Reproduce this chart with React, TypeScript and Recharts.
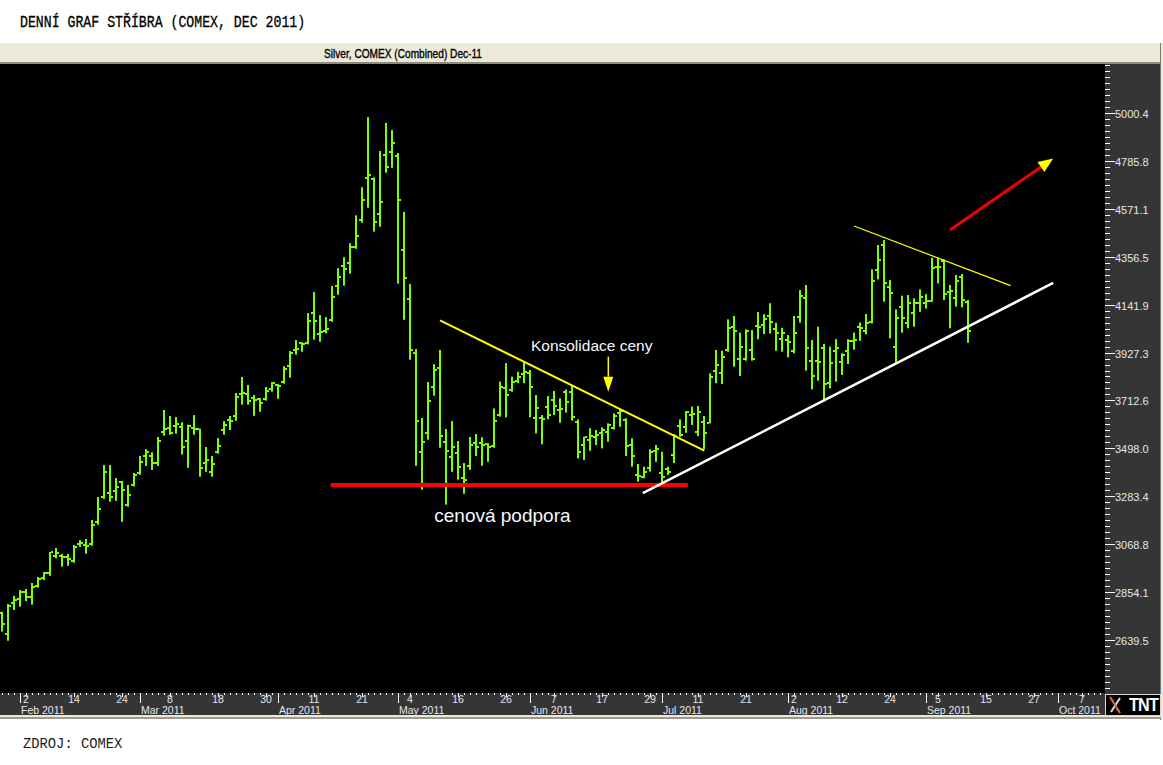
import React from 'react';
import { ComposedChart, Bar, XAxis, YAxis, ReferenceLine, ReferenceDot } from 'recharts';

/**
 * Daily OHLC bars, one per trading day.
 * Index 0 = 2 Feb 2011, first bar (index -4) = 27 Jan 2011.
 * Every weekday has a slot except Good Friday (22 Apr).
 */
const FIRST_INDEX = -4;

const opens = [
  2760, 2665, 2805, 2823, 2856, 2833, 2881, 2919, 2941, 3014,
  3016, 3013, 2995, 3068, 3065, 3068, 3169, 3279, 3300, 3308,
  3346, 3244, 3335, 3389, 3464, 3464, 3431, 3570, 3588, 3600,
  3595, 3532, 3590, 3586, 3431, 3391, 3483, 3580, 3625, 3644,
  3740, 3740, 3722, 3719, 3720, 3762, 3782, 3797, 3868, 3937,
  3970, 3971, 4106, 4009, 4024, 4073, 4227, 4316, 4328, 4401,
  4522, 4710, 4705, 4549, 4814, 4827, 4809, 4388, 4168, 3927,
  3480, 3568, 3772, 3857, 3528, 3461, 3479, 3367, 3420, 3522,
  3521, 3518, 3509, 3647, 3767, 3759, 3801, 3830, 3834, 3633,
  3633, 3685, 3715, 3670, 3752, 3752, 3617, 3513, 3535, 3548,
  3565, 3572, 3588, 3658, 3625, 3513, 3379, 3371, 3409, 3488,
  3386, 3404, 3468, 3598, 3595, 3647, 3573, 3615, 3613, 3846,
  3834, 3939, 4043, 3900, 3897, 3939, 4048, 4051, 4091, 4031,
  3987, 3984, 3934, 4088, 4170, 3891, 3891, 3948, 3789, 3935,
  3886, 3934, 3979, 4040, 4024, 4065, 4297, 4409, 4221, 3953,
  4133, 4058, 4103, 4148, 4150, 4160, 4312, 4339, 4200, 4170,
  4267, 4155,
];

const highs = [
  2766, 2801, 2837, 2863, 2868, 2895, 2922, 2944, 3034, 3052,
  3025, 3025, 3065, 3087, 3092, 3177, 3280, 3423, 3423, 3365,
  3352, 3334, 3388, 3464, 3494, 3480, 3549, 3670, 3643, 3638,
  3615, 3604, 3647, 3586, 3504, 3464, 3544, 3620, 3643, 3746,
  3818, 3782, 3737, 3724, 3773, 3795, 3786, 3866, 3934, 3983,
  3974, 4104, 4198, 4095, 4086, 4225, 4305, 4354, 4417, 4542,
  4668, 4982, 4712, 4830, 4956, 4924, 4821, 4557, 4234, 3943,
  3634, 3795, 3875, 3939, 3585, 3620, 3531, 3432, 3549, 3562,
  3548, 3521, 3677, 3797, 3880, 3819, 3841, 3885, 3849, 3737,
  3647, 3733, 3755, 3722, 3762, 3782, 3628, 3550, 3588, 3580,
  3592, 3610, 3655, 3673, 3633, 3543, 3428, 3416, 3494, 3513,
  3483, 3416, 3562, 3628, 3665, 3685, 3688, 3643, 3834, 3939,
  3935, 4076, 4091, 4016, 4031, 4028, 4109, 4099, 4148, 4061,
  4038, 4006, 4091, 4207, 4230, 3983, 4043, 3966, 3954, 3987,
  3924, 3987, 4017, 4062, 4100, 4300, 4409, 4431, 4252, 4121,
  4182, 4185, 4170, 4210, 4189, 4352, 4352, 4345, 4230, 4275,
  4279, 4163,
];

const lows = [
  2677, 2636, 2774, 2789, 2814, 2798, 2874, 2908, 2927, 3005,
  2968, 2972, 2986, 3057, 3026, 3062, 3156, 3272, 3259, 3263,
  3169, 3237, 3328, 3380, 3419, 3401, 3419, 3555, 3559, 3564,
  3470, 3411, 3559, 3371, 3393, 3371, 3474, 3559, 3580, 3622,
  3694, 3694, 3644, 3662, 3712, 3752, 3720, 3788, 3815, 3918,
  3931, 3964, 3985, 3976, 4013, 4065, 4186, 4227, 4281, 4392,
  4509, 4576, 4469, 4491, 4733, 4755, 4236, 4074, 3895, 3420,
  3313, 3537, 3734, 3501, 3246, 3393, 3358, 3295, 3402, 3464,
  3420, 3438, 3501, 3640, 3637, 3752, 3790, 3790, 3637, 3565,
  3516, 3628, 3647, 3613, 3658, 3622, 3453, 3446, 3487, 3513,
  3498, 3528, 3583, 3595, 3464, 3416, 3349, 3364, 3394, 3438,
  3341, 3379, 3432, 3550, 3568, 3603, 3553, 3494, 3610, 3790,
  3786, 3931, 3864, 3822, 3891, 3891, 3987, 4010, 4013, 3935,
  3931, 3906, 3924, 4061, 3846, 3762, 3801, 3707, 3767, 3797,
  3827, 3876, 3940, 3980, 4009, 4058, 4255, 4155, 3991, 3882,
  4016, 4036, 4043, 4110, 4124, 4155, 4237, 4163, 4036, 4133,
  4130, 3971,
];

const closes = [
  2710, 2793, 2820, 2856, 2833, 2877, 2911, 2938, 3032, 3030,
  3012, 3002, 3057, 3075, 3062, 3156, 3226, 3392, 3281, 3326,
  3313, 3290, 3380, 3438, 3483, 3431, 3531, 3586, 3567, 3608,
  3505, 3597, 3584, 3411, 3447, 3429, 3510, 3604, 3621, 3727,
  3748, 3711, 3716, 3703, 3756, 3792, 3776, 3855, 3927, 3944,
  3966, 4070, 4070, 4018, 4034, 4177, 4267, 4303, 4399, 4451,
  4612, 4722, 4513, 4603, 4760, 4865, 4612, 4262, 3940, 3622,
  3528, 3711, 3850, 3555, 3485, 3505, 3416, 3355, 3514, 3504,
  3513, 3505, 3622, 3772, 3737, 3797, 3819, 3838, 3774, 3677,
  3628, 3647, 3688, 3673, 3707, 3640, 3483, 3549, 3553, 3556,
  3580, 3603, 3643, 3664, 3509, 3464, 3374, 3393, 3483, 3494,
  3371, 3393, 3553, 3558, 3659, 3652, 3662, 3566, 3819, 3871,
  3909, 4036, 4025, 3953, 4025, 3898, 4040, 4076, 4063, 4013,
  4016, 3976, 4013, 4181, 3946, 3823, 3886, 3786, 3879, 3946,
  3916, 3979, 3983, 4036, 4060, 4248, 4342, 4237, 4194, 4083,
  4081, 4148, 4148, 4177, 4160, 4305, 4309, 4189, 4204, 4249,
  4163, 4025,
];

/** labelled day ticks (every 8th trading day) */
const dayTickIdx = [0, 8, 16, 24, 32, 40, 48, 56, 64, 72, 80, 88, 96, 104, 112, 120, 128, 136, 144, 152, 160, 168, 176];
const dayTickLabels = ['2', '14', '24', '8', '18', '30', '11', '21', '4', '16', '26', '7', '17', '29', '11', '21', '2', '12', '24', '5', '15', '27', '7'];

/** first trading day of each month */
const monthStartIdx = [-1, 19, 42, 62, 84, 106, 127, 150, 172];
const monthLabels = ['Feb 2011', 'Mar 2011', 'Apr 2011', 'May 2011', 'Jun 2011', 'Jul 2011', 'Aug 2011', 'Sep 2011', 'Oct 2011'];

const yMajorTicks = [5000.4, 4785.8, 4571.1, 4356.5, 4141.9, 3927.3, 3712.6, 3498.0, 3283.4, 3068.8, 2854.1, 2639.5];

/** hand-drawn annotations, in (trading day, price) */
const consolidationTop = [{ x: 69, y: 4071 }, { x: 113.05, y: 3488 }];
const supportLine = [{ x: 50.8, y: 3334 }, { x: 110.3, y: 3334 }];
const uptrendLine = [{ x: 102.8, y: 3297 }, { x: 171.2, y: 4239 }];
const triangleTop = [{ x: 138, y: 4494 }, { x: 164.1, y: 4227 }];
const breakoutArrow = [{ x: 154, y: 4476 }, { x: 171.2, y: 4797 }];
const noteArrow = [{ x: 97.05, y: 3909 }, { x: 97.05, y: 3752 }];

const CHART_W = 1160;
const CHART_H = 651;
const PLOT_W = 1105;
const PLOT_H = 629;
const X_MIN = -26 / 6;
const X_MAX = X_MIN + PLOT_W / 6;
const Y_MIN = 2402.1;
const Y_MAX = 5219.9;

const BAR_COLOR = '#80ff00';
const AXIS_TEXT = '#e6e6ee';
const SANS = "'Liberation Sans', Arial, sans-serif";
const MONO = "'Liberation Mono', 'Courier New', monospace";

const data = opens.map((o, k) => ({
  i: FIRST_INDEX + k,
  o,
  h: highs[k],
  l: lows[k],
  c: closes[k],
  range: [lows[k], highs[k]],
}));

const allDays: number[] = [];
for (let d = -4; d <= 179; d++) allDays.push(d);

// minor ticks: 8 steps between labelled prices, continued past both ends
const yTicks: number[] = [];
{
  const step = (yMajorTicks[0] - yMajorTicks[yMajorTicks.length - 1]) / ((yMajorTicks.length - 1) * 8);
  let v = yMajorTicks[yMajorTicks.length - 1];
  while (v - step > Y_MIN) v -= step;
  for (; v < Y_MAX; v += step) yTicks.push(Math.round(v * 10) / 10);
}

const OhlcShape = (props: any) => {
  const { x, y, width, height, payload } = props;
  if (!payload || x == null) return null;
  const cx = Math.round(x + width / 2);
  const top = Math.min(y, y + height);
  const bottom = Math.max(y, y + height);
  const span = payload.h - payload.l || 1;
  const yOf = (v: number) => Math.round(top + ((payload.h - v) / span) * (bottom - top));
  return (
    <g fill={BAR_COLOR}>
      <rect x={cx - 1} y={top} width={2} height={Math.max(bottom - top, 1)} />
      <rect x={cx - 3} y={yOf(payload.o) - 1} width={2} height={2} />
      <rect x={cx + 1} y={yOf(payload.c) - 1} width={2} height={2} />
    </g>
  );
};

const XTick = (props: any) => {
  const { x, payload } = props;
  const v = payload.value;
  const xx = Math.round(x) + 0.5;
  const dayPos = dayTickIdx.indexOf(v);
  const monthPos = monthStartIdx.indexOf(v);
  return (
    <g>
      <line x1={xx} x2={xx} y1={PLOT_H} y2={PLOT_H + (dayPos >= 0 ? 4 : 2)} stroke="#fff" />
      {dayPos >= 0 && (
        <text x={x} y={PLOT_H + 10} textAnchor="middle" fill={AXIS_TEXT} fontSize={10.5} fontFamily={SANS}>
          {dayTickLabels[dayPos]}
        </text>
      )}
      {monthPos >= 0 && (
        <g>
          <line x1={xx} x2={xx} y1={PLOT_H} y2={PLOT_H + 10} stroke="#fff" />
          <text x={x + 1} y={PLOT_H + 20.5} fill={AXIS_TEXT} fontSize={10.5} fontFamily={SANS}>
            {monthLabels[monthPos]}
          </text>
        </g>
      )}
    </g>
  );
};

const YTick = (props: any) => {
  const { y, payload } = props;
  const v = payload.value;
  const major = yMajorTicks.some((m) => Math.abs(m - v) < 0.2);
  const yy = Math.round(y) + 0.5;
  return (
    <g>
      <line x1={PLOT_W} x2={PLOT_W + (major ? 10 : 5)} y1={yy} y2={yy} stroke="#fff" />
      {major && (
        <text x={PLOT_W + 10} y={yy + 4} fill={AXIS_TEXT} fontSize={11} fontFamily={SANS}>
          {v.toFixed(1)}
        </text>
      )}
    </g>
  );
};

const arrowShape = (headColor: string, headLen: number, headHalf: number) => (props: any) => {
  const { x1, y1, x2, y2, stroke, strokeWidth } = props;
  const a = Math.atan2(y2 - y1, x2 - x1);
  const bx = x2 - headLen * Math.cos(a);
  const by = y2 - headLen * Math.sin(a);
  const px = -Math.sin(a) * headHalf;
  const py = Math.cos(a) * headHalf;
  return (
    <g>
      <line x1={x1} y1={y1} x2={bx} y2={by} stroke={stroke} strokeWidth={strokeWidth} />
      <polygon points={`${x2},${y2} ${bx + px},${by + py} ${bx - px},${by - py}`} fill={headColor} />
    </g>
  );
};

const textShape = (value: string, size: number) => (props: any) => (
  <text x={props.cx} y={props.cy} textAnchor="middle" fill="#f4f6ff" fontSize={size} fontFamily={SANS}>
    {value}
  </text>
);

export default function App() {
  return (
    <div style={{ position: 'absolute', left: 0, top: 0, width: 1163, height: 765, background: '#fff', overflow: 'hidden' }}>
      <div
        style={{
          position: 'absolute', left: 20, top: 15, fontFamily: MONO, fontSize: 16, lineHeight: '16px',
          color: '#000', whiteSpace: 'nowrap', transform: 'scaleX(0.825)', transformOrigin: 'left top',
          WebkitTextStroke: '0.3px #000',
        }}
      >
        DENNÍ GRAF STŘÍBRA (COMEX, DEC 2011)
      </div>

      {/* title bar of the chart window */}
      <div style={{ position: 'absolute', left: 0, top: 43, width: 1161, height: 19, background: '#ece9d8', borderBottom: '2px solid #8c8a80' }} />
      <div
        style={{
          position: 'absolute', left: 403, top: 47.7, fontFamily: SANS, fontSize: 12.5, lineHeight: '12.5px',
          color: '#000', whiteSpace: 'nowrap', transform: 'translateX(-50%) scaleX(0.81)',
          WebkitTextStroke: '0.35px #000',
        }}
      >
        Silver, COMEX (Combined) Dec-11
      </div>
      <div style={{ position: 'absolute', left: 1160, top: 43, width: 1, height: 677, background: '#7a7a7a' }} />
      <div style={{ position: 'absolute', left: 1161, top: 43, width: 2, height: 677, background: '#ece9d8' }} />

      <div style={{ position: 'absolute', left: 0, top: 64, width: CHART_W, height: CHART_H, background: '#353535' }}>
        <div style={{ position: 'absolute', left: 0, top: 0, width: PLOT_W, height: PLOT_H, background: '#000' }} />
        <ComposedChart width={CHART_W} height={CHART_H} data={data} margin={{ top: 0, right: 0, bottom: 0, left: 0 }}>
          <XAxis
            dataKey="i"
            type="number"
            domain={[X_MIN, X_MAX]}
            allowDataOverflow
            ticks={allDays}
            interval={0}
            tick={<XTick />}
            tickLine={false}
            axisLine={false}
            height={22}
          />
          <YAxis
            orientation="right"
            type="number"
            domain={[Y_MIN, Y_MAX]}
            allowDataOverflow
            ticks={yTicks}
            interval={0}
            tick={<YTick />}
            tickLine={false}
            axisLine={false}
            width={55}
          />
          <Bar dataKey="range" barSize={4} shape={OhlcShape} isAnimationActive={false} />
          <ReferenceLine segment={consolidationTop} stroke="#ffff00" strokeWidth={2} />
          <ReferenceLine segment={supportLine} stroke="#ff0000" strokeWidth={4} />
          <ReferenceLine segment={uptrendLine} stroke="#ffffff" strokeWidth={2.5} />
          <ReferenceLine segment={triangleTop} stroke="#ffff00" strokeWidth={1.2} />
          <ReferenceLine segment={breakoutArrow} stroke="#ee0000" strokeWidth={3} shape={arrowShape('#ffff00', 15, 6)} />
          <ReferenceLine segment={noteArrow} stroke="#ffff00" strokeWidth={1.5} shape={arrowShape('#ffff00', 15, 5)} />
          <ReferenceDot x={94.28} y={3932} r={1} shape={textShape('Konsolidace ceny', 15.5)} />
          <ReferenceDot x={79.4} y={3168} r={1} shape={textShape('cenová podpora', 19)} />
        </ComposedChart>
      </div>

      {/* window frame below the time axis */}
      <div style={{ position: 'absolute', left: 0, top: 715, width: 1161, height: 2, background: '#ece9d8' }} />
      <div style={{ position: 'absolute', left: 0, top: 717, width: 1161, height: 2, background: '#9a9890' }} />

      {/* vendor logo */}
      <div
        style={{
          position: 'absolute', left: 1105, top: 694, width: 54, height: 20, background: '#000',
          border: '1px solid #d8d8d8', overflow: 'hidden',
        }}
      >
        <svg width={54} height={20} style={{ position: 'absolute', left: 0, top: 0 }}>
          <line x1={4} y1={2} x2={14} y2={18} stroke="#e07040" strokeWidth={2} />
          <line x1={14} y1={3} x2={5} y2={17} stroke="#ddd" strokeWidth={2} />
          <line x1={7} y1={4} x2={11} y2={16} stroke="#c03050" strokeWidth={1} />
        </svg>
        <div
          style={{
            position: 'absolute', right: 2, top: 0, fontFamily: SANS, fontWeight: 'bold', fontSize: 19,
            lineHeight: '20px', color: '#fff', letterSpacing: -1, transform: 'scaleX(0.85)', transformOrigin: 'right',
          }}
        >
          TNT
        </div>
      </div>

      <div style={{ position: 'absolute', left: 23, top: 738.4, fontFamily: MONO, fontSize: 13.8, lineHeight: '13.8px', color: '#1a1a1a', whiteSpace: 'pre' }}>
        ZDROJ: COMEX
      </div>
    </div>
  );
}
